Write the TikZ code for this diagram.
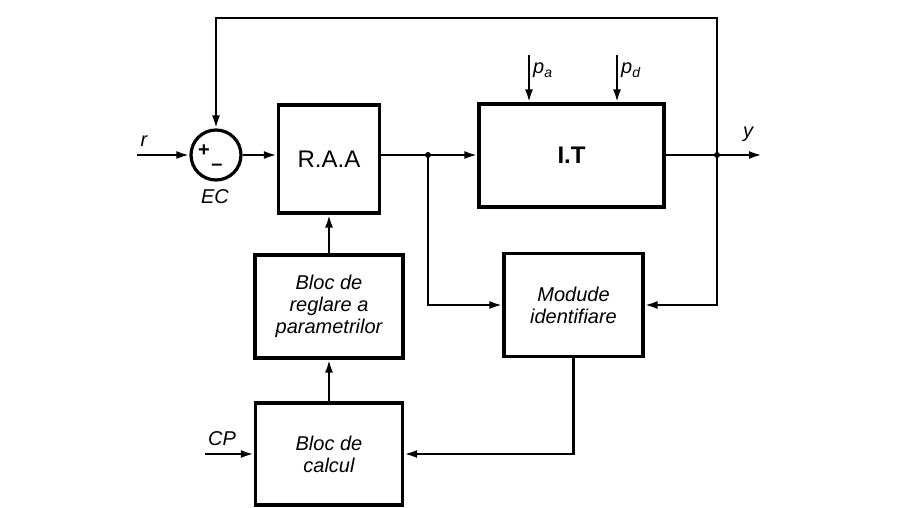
\documentclass[tikz,border=0pt]{standalone}
\usepackage{fontspec}
\setmainfont{Liberation Sans}
\usetikzlibrary{arrows.meta}
\begin{document}
\begin{tikzpicture}[x=1pt,y=-1pt,
  blk/.style={draw,line width=3.2pt,inner sep=0pt,align=center,font=\fontsize{20}{22}\selectfont\itshape},
  sumc/.style={draw,circle,line width=3.2pt,minimum size=50pt,inner sep=0pt},
  conn/.style={line width=2.4pt},
  arr/.style={conn,-{Latex[length=13pt,width=8pt]}},
  lbl/.style={font=\fontsize{20}{22}\selectfont\itshape,inner sep=0pt},
  dot/.style={circle,fill,inner sep=0pt,minimum size=6pt}]
\useasboundingbox (0,0) rectangle (904,507);
\fill[white] (0,0) rectangle (904,507);
% blocks
\node[sumc] (ec) at (216,155) {};
\node[font=\fontsize{20}{20}\selectfont\bfseries,inner sep=0pt] (plus) at (204,151) {+};
\node[font=\fontsize{20}{20}\selectfont\bfseries,inner sep=0pt] (minus) at (217,167) {\textendash};
\node[blk,minimum width=101pt,minimum height=108pt,font=\fontsize{24}{24}\selectfont] (raa) at (329,159) {R.A.A};
\node[blk,minimum width=185pt,minimum height=103pt,font=\fontsize{24}{24}\selectfont\bfseries] (it) at (571.5,155.5) {I.T};
\node[blk,minimum width=139pt,minimum height=103pt] (mod) at (573.5,305) {Modude\\identifiare};
\node[blk,minimum width=148pt,minimum height=103pt] (reg) at (329,306.5) {Bloc de\\reglare a\\parametrilor};
\node[blk,minimum width=147pt,minimum height=102pt] (calc) at (329,454) {Bloc de\\calcul};
% coordinates
\coordinate (rin) at (137,155);
\coordinate (j1) at (428,155);
\coordinate (j2) at (717,155);
\coordinate (top) at (717,18);
\coordinate (yout) at (762,155);
\coordinate (pa) at (529,55);
\coordinate (pd) at (617,55);
\coordinate (cpin) at (205,454);
% connectors
\draw[arr] (rin) -- (ec.west);
\draw[arr] (ec.east) -- (ec.east -| raa.west);
\draw[arr] (raa.east |- j1) -- (it.west |- j1);
\draw[arr] (it.east |- j2) -- (yout);
\draw[arr] (j2) -- (top) -| (ec.north);
\draw[arr] (j2) |- (mod.east);
\draw[arr] (j1) |- (mod.west);
\draw[arr] (mod.south) |- (calc.east);
\draw[arr] (cpin) -- (calc.west);
\draw[arr] (calc.north) -- (reg.south);
\draw[arr] (reg.north) -- (raa.south);
\draw[arr] (pa) -- (pa |- it.north);
\draw[arr] (pd) -- (pd |- it.north);
\node[dot] (d1) at (j1) {};
\node[dot] (d2) at (j2) {};
% labels
\node[lbl] (lr) at (144,141) {r};
\node[lbl] (lec) at (215,197) {EC};
\node[lbl] (ly) at (748,134) {y};
\node[lbl,anchor=west] (lpa) at (533,70) {p\raisebox{-0.35ex}{\fontsize{14}{14}\selectfont a}};
\node[lbl,anchor=west] (lpd) at (621,70) {p\raisebox{-0.35ex}{\fontsize{14}{14}\selectfont d}};
\node[lbl] (lcp) at (222,439) {CP};
\end{tikzpicture}
\end{document}
